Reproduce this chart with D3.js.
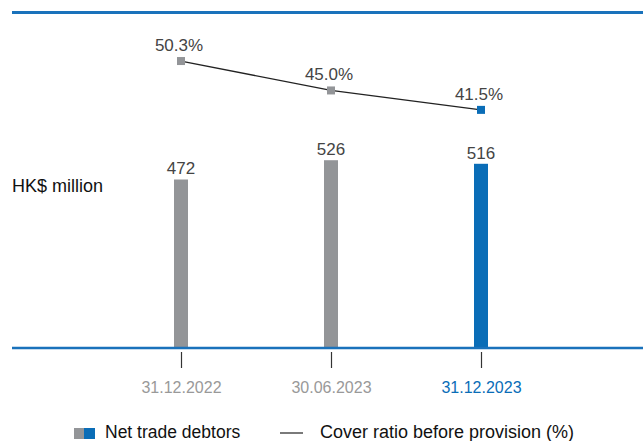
<!DOCTYPE html>
<html>
<head>
<meta charset="utf-8">
<script src="https://cdn.jsdelivr.net/npm/d3@7"></script>
<style>
  html, body { margin: 0; padding: 0; background: #fff; }
  svg { display: block; font-family: "Liberation Sans", Arial, sans-serif; }
</style>
</head>
<body>
<svg id="chart" width="643" height="441"></svg>
<script>
// Period labels and values
const periods = ["31.12.2022", "30.06.2023", "31.12.2023"];
const netTradeDebtors = [472, 526, 516];        // HK$ million
const coverRatio = [50.3, 45.0, 41.5];          // %
const coverRatioLabels = ["50.3%", "45.0%", "41.5%"];
const legendLabels = ["Net trade debtors", "Cover ratio before provision (%)"];

const GREY = "#939598";
const BLUE = "#0a6db7";
const colourFor = i => (i === periods.length - 1 ? BLUE : GREY);

const svg = d3.select("#chart");

const x = d3.scalePoint().domain(periods).range([181, 481]);
const yBar = d3.scaleLinear().domain([0, 600]).range([348, 133.8]);
const yLine = d3.scaleLinear().domain([40, 52]).range([118.2, 51.6]);

// top rule
svg.append("line")
  .attr("x1", 12).attr("x2", 643).attr("y1", 12.5).attr("y2", 12.5)
  .attr("stroke", "#1a72bb").attr("stroke-width", 3);

// bars
const barW = 14;
svg.selectAll("rect.bar").data(netTradeDebtors).join("rect")
  .attr("class", "bar")
  .attr("x", (d, i) => x(periods[i]) - barW / 2)
  .attr("width", barW)
  .attr("y", d => yBar(d))
  .attr("height", d => yBar(0) - yBar(d))
  .attr("fill", (d, i) => colourFor(i));

svg.selectAll("text.barlabel").data(netTradeDebtors).join("text")
  .attr("class", "barlabel")
  .attr("x", (d, i) => x(periods[i]))
  .attr("y", d => yBar(d) - 5)
  .attr("text-anchor", "middle")
  .attr("font-size", 17)
  .attr("fill", "#444")
  .text(d => d);

// baseline axis
svg.append("line")
  .attr("x1", 12).attr("x2", 643).attr("y1", 348).attr("y2", 348)
  .attr("stroke", "#1a72bb").attr("stroke-width", 2.5);

const axis = d3.axisBottom(x).tickSize(16).tickPadding(14);
const axisG = svg.append("g").attr("transform", "translate(0,352)").call(axis);
axisG.select(".domain").remove();
axisG.selectAll(".tick line").attr("stroke", "#333").attr("stroke-width", 1.2);
axisG.selectAll(".tick text")
  .attr("font-size", 16)
  .attr("font-family", "Liberation Sans, Arial, sans-serif")
  .attr("fill", (d, i) => (i === periods.length - 1 ? BLUE : "#999"));

// cover ratio line
const line = d3.line()
  .x((d, i) => x(periods[i]))
  .y(d => yLine(d));
svg.append("path")
  .datum(coverRatio)
  .attr("d", line)
  .attr("fill", "none")
  .attr("stroke", "#222")
  .attr("stroke-width", 1.3);

const mk = 8;
svg.selectAll("rect.marker").data(coverRatio).join("rect")
  .attr("class", "marker")
  .attr("x", (d, i) => x(periods[i]) - mk / 2)
  .attr("y", d => yLine(d) - mk / 2)
  .attr("width", mk).attr("height", mk)
  .attr("fill", (d, i) => colourFor(i));

svg.selectAll("text.ratiolabel").data(coverRatio).join("text")
  .attr("class", "ratiolabel")
  .attr("x", (d, i) => x(periods[i]) - 2)
  .attr("y", d => yLine(d) - 10)
  .attr("text-anchor", "middle")
  .attr("font-size", 17)
  .attr("fill", "#444")
  .text((d, i) => coverRatioLabels[i]);

// unit label
svg.append("text")
  .attr("x", 12).attr("y", 192)
  .attr("font-size", 18)
  .attr("fill", "#111")
  .text("HK$ million");

// legend
const lg = svg.append("g");
lg.append("rect").attr("x", 74).attr("y", 428).attr("width", 10).attr("height", 11).attr("fill", GREY);
lg.append("rect").attr("x", 84).attr("y", 428).attr("width", 11).attr("height", 11).attr("fill", BLUE);
lg.append("text").attr("x", 105).attr("y", 438).attr("font-size", 17.5).attr("fill", "#111").text(legendLabels[0]);
lg.append("line").attr("x1", 280).attr("x2", 303).attr("y1", 433).attr("y2", 433)
  .attr("stroke", "#222").attr("stroke-width", 1.2);
lg.append("text").attr("x", 320).attr("y", 438).attr("font-size", 18).attr("fill", "#111").text(legendLabels[1]);
</script>
</body>
</html>
